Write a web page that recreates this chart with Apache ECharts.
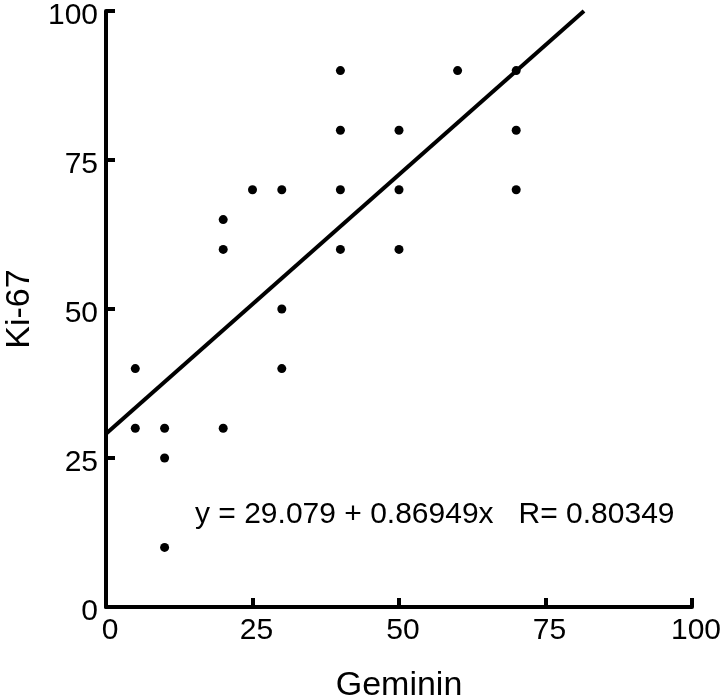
<!DOCTYPE html>
<html>
<head>
<meta charset="utf-8">
<script src="https://cdn.jsdelivr.net/npm/echarts@6/dist/echarts.min.js"></script>
<style>
    html, body { margin: 0; padding: 0; background: #fff; }
    #main { width: 720px; height: 699px; }
</style>
</head>
<body>
<div id="main"></div>
<script>
// Geminin (x) vs Ki-67 (y)
var gemininVals = [5, 5, 10, 10, 10, 20, 20, 20, 25, 30, 30, 30, 40, 40, 40, 40, 50, 50, 50, 60, 70, 70, 70];
var ki67Vals = [40, 30, 30, 25, 10, 65, 60, 30, 70, 70, 50, 40, 90, 80, 70, 60, 80, 70, 60, 90, 90, 80, 70];
var xTicks = [0, 25, 50, 75, 100];
var yTicks = [0, 25, 50, 75, 100];

// regression from the figure text
var intercept = 29.079, slope = 0.86949;
var eqText = 'y = 29.079 + 0.86949x   R= 0.80349';

var FONT = '"Liberation Sans", Arial, Helvetica, sans-serif';

(function () {
    var myChart = echarts.init(document.getElementById('main'));

    var points = [];
    for (var i = 0; i < gemininVals.length; i++) {
        points.push([gemininVals[i], ki67Vals[i]]);
    }
    // line ends where it hits the top of the plot
    var xEnd = (100 - intercept) / slope;
    var fitLine = [[0, intercept], [xEnd, intercept + slope * xEnd]];

    var axisCommon = {
        min: 0,
        max: 100,
        interval: 25,
        splitLine: { show: false },
        axisLine: { show: true, lineStyle: { color: '#000', width: 4 } },
        axisTick: { show: true, inside: true, length: 9, lineStyle: { color: '#000', width: 4 } },
        nameTextStyle: { color: '#000', fontSize: 34, fontFamily: FONT }
    };

    var option = {
        animation: false,
        backgroundColor: '#fff',
        grid: { left: 106, right: 28, top: 11, bottom: 92, containLabel: false, outerBoundsMode: 'none' },
        xAxis: echarts.util.merge({
            type: 'value',
            name: 'Geminin',
            nameLocation: 'middle',
            nameGap: 62,
            axisLabel: {
                color: '#000', fontSize: 30, fontFamily: FONT, margin: 9,
                padding: [0, 0, 0, 8],
                formatter: function (v) { return xTicks.indexOf(v) >= 0 ? String(v) : ''; }
            }
        }, axisCommon, true),
        yAxis: echarts.util.merge({
            type: 'value',
            name: 'Ki-67',
            nameLocation: 'middle',
            nameGap: 64,
            nameRotate: 90,
            axisLabel: {
                color: '#000', fontSize: 30, fontFamily: FONT, margin: 8,
                // labels sit a few px below their ticks in the original
                formatter: function (v) { return yTicks.indexOf(v) >= 0 ? '{t|' + v + '}' : ''; },
                rich: {
                    t: { color: '#000', fontSize: 30, fontFamily: FONT, padding: [10, 0, 0, 0] }
                }
            }
        }, axisCommon, true),
        graphic: [{
            type: 'text',
            left: 195,
            top: 500,
            style: { text: eqText, fill: '#000', fontSize: 30, fontFamily: FONT }
        }],
        series: [
            {
                type: 'line',
                data: fitLine,
                showSymbol: false,
                lineStyle: { color: '#000', width: 4 },
                z: 2
            },
            {
                type: 'scatter',
                data: points,
                symbol: 'circle',
                symbolSize: 9,
                itemStyle: { color: '#000', opacity: 1 },
                z: 3
            }
        ]
    };
    myChart.setOption(option);
}())
</script>
</body>
</html>
